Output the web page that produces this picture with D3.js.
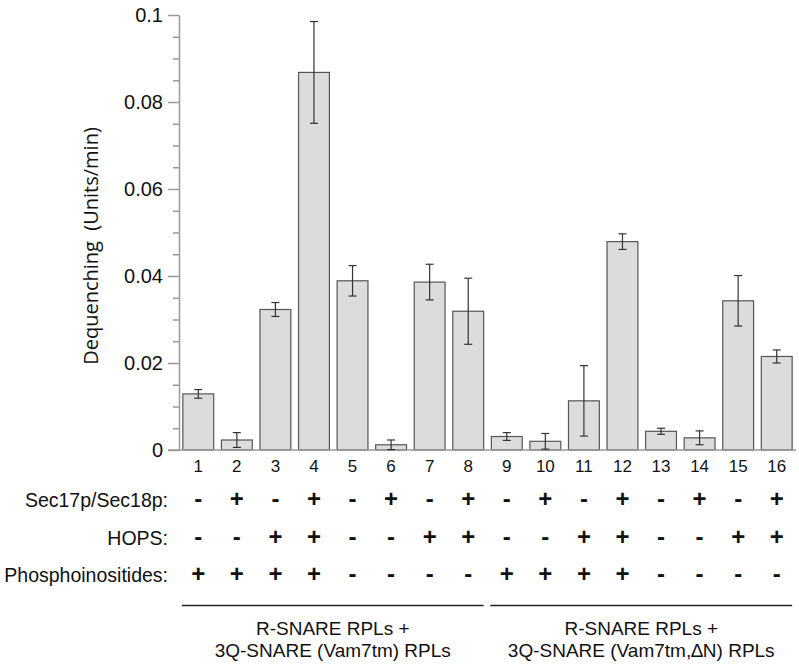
<!DOCTYPE html>
<html>
<head>
<meta charset="utf-8">
<script src="https://cdn.jsdelivr.net/npm/d3@7"></script>
<style>
  html, body { margin: 0; padding: 0; background: #fff; }
  svg { display: block; }
  text { font-family: "Liberation Sans", Arial, Helvetica, sans-serif; fill: #111; }
</style>
</head>
<body>
<svg id="chart" width="799" height="666"></svg>
<script>
// ---- data ----
const lanes = ["1","2","3","4","5","6","7","8","9","10","11","12","13","14","15","16"];
const values = [0.0129, 0.0023, 0.0323, 0.0868, 0.0389, 0.0012, 0.0386, 0.0319,
                0.0031, 0.0020, 0.0113, 0.0479, 0.0043, 0.0028, 0.0343, 0.0215];
const errors = [0.0010, 0.0017, 0.0016, 0.0117, 0.0035, 0.0011, 0.0041, 0.0076,
                0.0009, 0.0018, 0.0081, 0.0018, 0.0007, 0.0016, 0.0058, 0.0015];
const secRow     = ["-","+","-","+","-","+","-","+","-","+","-","+","-","+","-","+"];
const hopsRow    = ["-","-","+","+","-","-","+","+","-","-","+","+","-","-","+","+"];
const phosphoRow = ["+","+","+","+","-","-","-","-","+","+","+","+","-","-","-","-"];
const rowLabels = ["Sec17p/Sec18p:", "HOPS:", "Phosphoinositides:"];
const yMajorTicks = [0, 0.02, 0.04, 0.06, 0.08, 0.1];
const yTickLabels = ["0", "0.02", "0.04", "0.06", "0.08", "0.1"];
const groupStarts = ["1", "9"];
const groupEnds = ["8", "16"];
const groupLine1 = ["R-SNARE RPLs +", "R-SNARE RPLs +"];
const groupLine2 = ["3Q-SNARE (Vam7tm) RPLs", "3Q-SNARE (Vam7tm,\u2206N) RPLs"];
const yTitle = "Dequenching  (Units/min)";

// ---- layout ----
const svg = d3.select("#chart");
const x = d3.scaleBand().domain(lanes).range([179, 796]).paddingInner(0.2).paddingOuter(0.1);
const y = d3.scaleLinear().domain([0, 0.1]).range([450, 15]);
const axisColor = "#9a9a9a";

// minor ticks
const minorVals = d3.range(0, 0.1001, 0.005).filter(v => !yMajorTicks.some(m => Math.abs(m - v) < 1e-9));
const minorAxis = svg.append("g").attr("transform", "translate(179,0)")
  .call(d3.axisLeft(y).tickValues(minorVals).tickSize(6).tickFormat(""));
minorAxis.select(".domain").remove();
minorAxis.selectAll("line").attr("stroke", axisColor).attr("stroke-width", 1.5);

// major axis
const yAxis = svg.append("g").attr("transform", "translate(179,0)")
  .call(d3.axisLeft(y).tickValues(yMajorTicks).tickSize(11).tickSizeOuter(0).tickPadding(5)
        .tickFormat((d, i) => yTickLabels[i]));
yAxis.select(".domain").attr("stroke", axisColor).attr("stroke-width", 1.5);
yAxis.selectAll(".tick line").attr("stroke", axisColor).attr("stroke-width", 1.5);
yAxis.selectAll(".tick text")
  .style("font-family", "'Liberation Sans', Arial, sans-serif")
  .style("font-size", "20px").attr("fill", "#111");

// y title
svg.append("text")
  .attr("transform", "translate(98,246) rotate(-90)")
  .attr("text-anchor", "middle")
  .attr("xml:space", "preserve")
  .style("white-space", "pre")
  .style("font-family", "'Open Sans', 'Noto Sans', sans-serif")
  .style("font-size", "20px")
  .text(yTitle);

// bars
svg.append("g").selectAll("rect").data(lanes).join("rect")
  .attr("x", d => x(d))
  .attr("width", x.bandwidth())
  .attr("y", (d, i) => y(values[i]))
  .attr("height", (d, i) => y(0) - y(values[i]))
  .attr("fill", "#dcdcdc")
  .attr("stroke", "#555")
  .attr("stroke-width", 1.2);

// baseline
svg.append("line")
  .attr("x1", 168).attr("x2", 796)
  .attr("y1", y(0)).attr("y2", y(0))
  .attr("stroke", axisColor).attr("stroke-width", 1.5);

// error bars
const eg = svg.append("g").attr("stroke", "#333").attr("stroke-width", 1.2);
lanes.forEach((d, i) => {
  const cx = x(d) + x.bandwidth() / 2;
  const top = y(values[i] + errors[i]);
  const bot = y(Math.max(0, values[i] - errors[i]));
  eg.append("line").attr("x1", cx).attr("x2", cx).attr("y1", top).attr("y2", bot);
  eg.append("line").attr("x1", cx - 4).attr("x2", cx + 4).attr("y1", top).attr("y2", top);
  eg.append("line").attr("x1", cx - 4).attr("x2", cx + 4).attr("y1", bot).attr("y2", bot);
});

// lane numbers
svg.append("g").selectAll("text").data(lanes).join("text")
  .attr("x", d => x(d) + x.bandwidth() / 2)
  .attr("y", 472)
  .attr("text-anchor", "middle")
  .style("font-size", "17px")
  .text(d => d);

// condition rows
const rows = [secRow, hopsRow, phosphoRow];
const rowBaselines = [507, 545, 582];
rows.forEach((row, r) => {
  svg.append("text")
    .attr("x", 168).attr("y", rowBaselines[r])
    .attr("text-anchor", "end")
    .style("font-size", "19.5px")
    .text(rowLabels[r]);
  svg.append("g").selectAll("text").data(row).join("text")
    .attr("x", (d, i) => x(lanes[i]) + x.bandwidth() / 2)
    .attr("y", rowBaselines[r])
    .attr("text-anchor", "middle")
    .style("font-size", "24px")
    .style("font-weight", "bold")
    .text(d => d);
});

// group lines and labels
groupStarts.forEach((s, g) => {
  const x1 = x(s) - 1;
  const x2 = x(groupEnds[g]) + x.bandwidth();
  svg.append("line")
    .attr("x1", x1).attr("x2", x2).attr("y1", 605.5).attr("y2", 605.5)
    .attr("stroke", "#222").attr("stroke-width", 1.3);
  const cx = (x1 + x2) / 2;
  svg.append("text").attr("x", cx).attr("y", 635).attr("text-anchor", "middle")
    .style("font-size", "19px").text(groupLine1[g]);
  svg.append("text").attr("x", cx).attr("y", 656.5).attr("text-anchor", "middle")
    .style("font-size", "19px").text(groupLine2[g]);
});
</script>
</body>
</html>
